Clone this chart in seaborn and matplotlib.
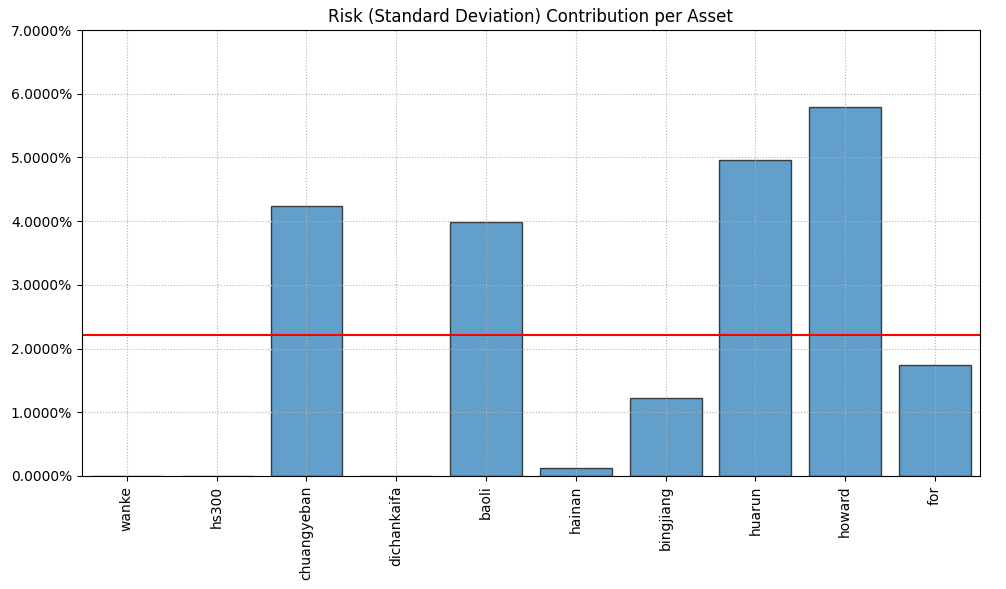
import numpy as np
import pandas as pd
import matplotlib
matplotlib.use('Agg')
import matplotlib.pyplot as plt
import matplotlib.ticker as mtick
import seaborn as sns

# risk contribution per asset (fraction of std dev)
assets = ['wanke', 'hs300', 'chuangyeban', 'dichankaifa', 'baoli',
          'hainan', 'bingjiang', 'huarun', 'howard', 'for']
contrib = [0.0, 0.0, 0.04238, 0.0, 0.03987,
           0.00126, 0.01224, 0.04960, 0.05790, 0.01740]

df = pd.DataFrame({'asset': assets, 'contrib': contrib})

fig, ax = plt.subplots(figsize=(10.06, 5.89), dpi=100)
sns.barplot(data=df, x='asset', y='contrib', color='#1f77b4', alpha=0.7,
            saturation=1, edgecolor='black', linewidth=1, width=0.8, ax=ax)

# equal risk level (average contribution)
ax.axhline(np.mean(contrib), color='red', linewidth=1.5)

ax.set_ylim(0, 0.07)
ax.yaxis.set_major_formatter(mtick.PercentFormatter(1.0, decimals=4))
ax.grid(True, linestyle=':', linewidth=0.8)
ax.set_xlabel('')
ax.set_ylabel('')
ax.set_title('Risk (Standard Deviation) Contribution per Asset')
plt.xticks(rotation=90)
fig.subplots_adjust(left=0.0815, right=0.974, top=0.949, bottom=0.192)
plt.savefig('out.png')
